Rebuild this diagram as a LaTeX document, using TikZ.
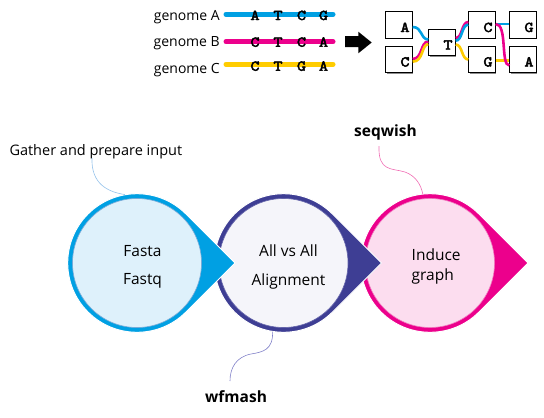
\documentclass[tikz,border=0pt]{standalone}
\usepackage{fontspec}
\setmainfont{Open Sans}
\newfontfamily\codefont{lmmono10-regular.otf}[FakeBold=3,FakeStretch=1.15]
\usetikzlibrary{shadows}
\definecolor{gcyan}{RGB}{0,160,227}
\definecolor{gmag}{RGB}{236,0,140}
\definecolor{gyel}{RGB}{255,204,0}
\definecolor{gdark}{RGB}{62,62,148}
\definecolor{lc1}{RGB}{222,241,251}
\definecolor{lc2}{RGB}{245,245,250}
\definecolor{lc3}{RGB}{252,221,239}
\definecolor{lc1e}{RGB}{120,170,215}
\definecolor{lc2e}{RGB}{100,100,170}
\definecolor{lc3e}{RGB}{240,120,190}
\definecolor{callc}{RGB}{150,195,235}
\definecolor{callw}{RGB}{128,128,200}
\definecolor{calls}{RGB}{240,110,180}
\newcommand{\codeletter}{\codefont\fontsize{15}{17}\selectfont}
\begin{document}
\begin{tikzpicture}[x=1pt,y=-1pt,
  glabel/.style={anchor=base east,inner sep=0pt,font=\fontsize{14}{16}\selectfont},
  gline/.style={line width=5pt,line cap=round},
  base/.style={anchor=base,inner sep=0pt,font=\codeletter},
  gbox/.style={draw=black,line width=0.8pt,fill=white,minimum width=26.5pt,minimum height=26.5pt,
    text width=21pt,align=right,inner xsep=2.5pt,inner ysep=0pt,text height=14pt,text depth=0pt,
    font=\codeletter,
    drop shadow={shadow xshift=1pt,shadow yshift=-1pt,fill=black!45,opacity=1}},
  conn/.style={line width=2.6pt},
  outer/.style={circle,minimum size=138.6pt,inner sep=0pt},
  inner/.style={circle,minimum size=129pt,inner sep=0pt,line width=0.6pt},
  ctext/.style={anchor=base,inner sep=0pt,font=\fontsize{15.5}{18}\selectfont},
  ctextw/.style={anchor=base west,inner sep=0pt,font=\fontsize{15.5}{18}\selectfont},
  btext/.style={anchor=base west,inner sep=0pt,font=\bfseries\fontsize{15.5}{18}\selectfont},
  callout/.style={line width=0.6pt}
]
\useasboundingbox (0,0) rectangle (544,418);

% ---- genome rows ----
\node[glabel] (lA) at (220,20.7) {genome A};
\node[glabel] (lB) at (220,46.7) {genome B};
\node[glabel] (lC) at (220,73.3) {genome C};
\coordinate (a0) at (226,14.3); \coordinate (a1) at (333,14.3);
\coordinate (b0) at (226,41.7); \coordinate (b1) at (333,41.7);
\coordinate (c0) at (226,64.3); \coordinate (c1) at (333,64.3);
\draw[gline,gcyan] (a0) -- (a1);
\draw[gline,gmag] (b0) -- (b1);
\draw[gline,gyel] (c0) -- (c1);
\node[base] (a1l) at (255,20) {A};
\node[base] (a2l) at (278,20) {T};
\node[base] (a3l) at (301.5,20) {C};
\node[base] (a4l) at (323.5,20) {G};
\node[base] (b1l) at (255,46.7) {C};
\node[base] (b2l) at (278,46.7) {T};
\node[base] (b3l) at (301.5,46.7) {C};
\node[base] (b4l) at (323.5,46.7) {A};
\node[base] (c1l) at (255,70.7) {C};
\node[base] (c2l) at (278,70.7) {T};
\node[base] (c3l) at (301.5,70.7) {G};
\node[base] (c4l) at (323.5,70.7) {A};

% ---- arrow ----
\fill[black] (345,36) -- (358.3,36) -- (358.3,31.7) -- (371.7,42.5) -- (358.3,53.3) -- (358.3,47) -- (345,47) -- cycle;

% ---- graph ----
\node[gbox] (bA) at (399,25) {A};
\node[gbox] (bC) at (399,59.5) {C};
\node[gbox] (bT) at (442,42.5) {T};
\node[gbox] (bC2) at (482,25) {C};
\node[gbox] (bG2) at (482,59.5) {G};
\node[gbox] (bG3) at (523,25) {G};
\node[gbox] (bA3) at (523,59.5) {A};
\draw[conn,gmag] ([yshift=0.5pt]bC.east) .. controls +(10,0) and +(-8,0) .. ([yshift=1pt]bT.west);
\draw[conn,gyel] ([yshift=-2.2pt]bC.east) .. controls +(11,0) and +(-7,0) .. ([yshift=-1.6pt]bT.west);
\draw[conn,gcyan] ([yshift=-2pt]bA.east) .. controls +(10,0) and +(-8,0) .. ([yshift=3pt]bT.west);
\draw[conn,gyel] ([yshift=-2pt]bT.east) .. controls +(7,0) and +(-7,0) .. ([yshift=0pt]bG2.west);
\draw[conn,gmag] ([yshift=4.5pt]bT.east) .. controls +(7,0) and +(-7,0) .. ([yshift=3pt]bC2.west);
\draw[conn,gcyan] ([yshift=1.8pt]bT.east) .. controls +(7,0) and +(-7,0) .. ([yshift=0.3pt]bC2.west);
\draw[conn,gcyan] ([yshift=1pt]bC2.east) -- ([yshift=1pt]bG3.west);
\draw[conn,gyel] ([yshift=-1pt]bG2.east) -- ([yshift=-1pt]bA3.west);
\draw[conn,gmag] ([yshift=1pt]bC2.east) .. controls +(12,0) and +(-9,0) .. ([yshift=-6pt]bA3.west);

% ---- process circles (drawn right to left) ----
\node[outer] (o3) at (430,263) {};
\node[outer] (o2) at (283.5,263) {};
\node[outer] (o1) at (137,263) {};

\path[fill=gmag,draw=white,line width=1pt] (479,214) arc[start angle=45,end angle=315,radius=69.3pt] -- (528,263) -- cycle;
\node[inner,fill=lc3,draw=lc3e] (i3) at (430,263) {};

\path[fill=gdark,draw=white,line width=1pt] (332.5,214) arc[start angle=45,end angle=315,radius=69.3pt] -- (381.5,263) -- cycle;
\node[inner,fill=lc2,draw=lc2e] (i2) at (283.5,263) {};

\path[fill=gcyan,draw=white,line width=1pt] (186,214) arc[start angle=45,end angle=315,radius=69.3pt] -- (235,263) -- cycle;
\node[inner,fill=lc1,draw=lc1e] (i1) at (137,263) {};

\node[ctext] (t1a) at (142.5,256) {Fasta};
\node[ctext] (t1b) at (142.5,284.3) {Fastq};
\node[ctext] (t2a) at (288.5,256.5) {All vs All};
\node[ctext] (t2b) at (288.5,285) {Alignment};
\node[ctextw] (t3a) at (411.5,260.7) {Induce};
\node[ctextw] (t3b) at (411.5,280.7) {graph};

% ---- callouts ----
\node[anchor=base west,inner sep=0pt,font=\fontsize{14.5}{17}\selectfont] (gather) at (9.3,155.7) {Gather and prepare input};
\node[btext] (seqw) at (354,136) {seqwish};
\node[btext] (wfm) at (205,402.7) {wfmash};
\coordinate (gs) at (92,158);
\coordinate (ss) at (379,146);
\coordinate (we) at (230,381);
\draw[callout,callc] (gs) .. controls (91,184) and (108,192) .. (o1.100);
\draw[callout,calls] (ss) .. controls (378,172) and (392,168) .. (405,172) .. controls (416,176) and (421,185) .. (o3.96);
\draw[callout,callw] (o2.261) .. controls (273,350) and (263,352) .. (251,354) .. controls (236,357) and (230,368) .. (we);
\end{tikzpicture}
\end{document}
